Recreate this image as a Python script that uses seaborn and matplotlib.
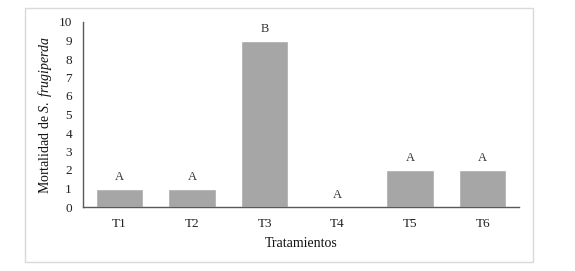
import pandas as pd
import seaborn as sns
import matplotlib.pyplot as plt
from matplotlib.patches import Rectangle

tratamientos = ['T1', 'T2', 'T3', 'T4', 'T5', 'T6']
mortalidad = [1, 1, 9, 0, 2, 2]
letras = ['A', 'A', 'B', 'A', 'A', 'A']

df = pd.DataFrame({'Tratamiento': tratamientos, 'Mortalidad': mortalidad})

sns.set_style('white')
plt.rcParams['font.family'] = ['Liberation Serif', 'DejaVu Serif']
plt.rcParams['mathtext.fontset'] = 'custom'
plt.rcParams['mathtext.rm'] = 'Liberation Serif'
plt.rcParams['mathtext.it'] = 'Liberation Serif:italic'

fig = plt.figure(figsize=(5.75, 2.71), dpi=100)
fig.patches.append(Rectangle((25 / 575, 1 - 262 / 271), 508 / 575, 254 / 271,
                             transform=fig.transFigure, fill=False,
                             edgecolor='#d9d9d9', linewidth=1))
ax = fig.add_axes([83 / 575, 1 - 207 / 271, 436 / 575, 185 / 271])

sns.barplot(data=df, x='Tratamiento', y='Mortalidad', color='#a6a6a6',
            saturation=1, width=0.65, ax=ax)

for i, (v, l) in enumerate(zip(mortalidad, letras)):
    ax.annotate(l, (i, v), xytext=(0, 4), textcoords='offset points',
                ha='center', va='bottom', fontsize=9, color='#333333')

ax.set_ylim(0, 10)
ax.set_yticks(range(0, 11))
ax.set_ylabel('Mortalidad de $\\it{S.\\ frugiperda}$', fontsize=10, color='#111111', labelpad=3)
ax.set_xlabel('Tratamientos', fontsize=10, color='#111111', labelpad=5)
ax.tick_params(axis='y', length=0, labelsize=9.5, pad=8, labelcolor='#222222')
ax.tick_params(axis='x', length=0, labelsize=9.5, pad=8, labelcolor='#222222')
for s in ['top', 'right']:
    ax.spines[s].set_visible(False)
for s in ['left', 'bottom']:
    ax.spines[s].set_color('#595959')
    ax.spines[s].set_linewidth(1)

plt.savefig('out.png', dpi=100)
